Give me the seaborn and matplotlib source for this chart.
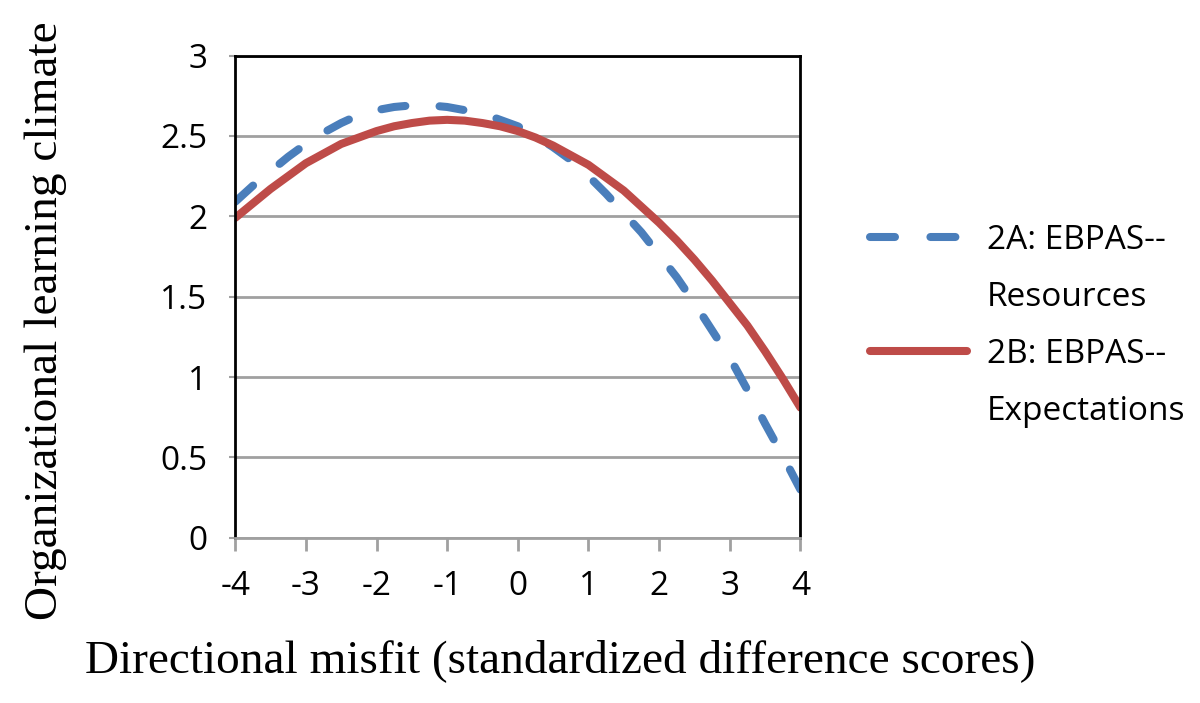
import matplotlib
matplotlib.use("Agg")
import matplotlib.pyplot as plt
from matplotlib.lines import Line2D
import pandas as pd
import seaborn as sns

sns.set_theme(style="white")
plt.rcParams['font.family'] = ['Open Sans', 'DejaVu Sans']
plt.rcParams['axes.unicode_minus'] = False
plt.rcParams['text.color'] = 'black'
plt.rcParams['xtick.color'] = 'black'
plt.rcParams['ytick.color'] = 'black'
plt.rcParams['axes.labelcolor'] = 'black'

## Data
misfit = [-4, -3.75, -3.5, -3.25, -3, -2.75, -2.5, -2.25, -2, -1.75, -1.5, -1.25, -1,
          -0.75, -0.5, -0.25, 0, 0.25, 0.5, 0.75, 1, 1.25, 1.5, 1.75, 2, 2.25, 2.5,
          2.75, 3, 3.25, 3.5, 3.75, 4]
resources = [2.09, 2.19, 2.28, 2.37, 2.45, 2.52, 2.58, 2.63, 2.66, 2.68, 2.69, 2.69, 2.68,
             2.66, 2.64, 2.60, 2.56, 2.50, 2.43, 2.35, 2.25, 2.14, 2.02, 1.90, 1.76, 1.62,
             1.46, 1.29, 1.12, 0.92, 0.71, 0.51, 0.30]
expectations = [1.99, 2.08, 2.17, 2.25, 2.33, 2.39, 2.45, 2.49, 2.53, 2.56, 2.58, 2.595, 2.60,
                2.595, 2.58, 2.56, 2.53, 2.49, 2.44, 2.38, 2.32, 2.24, 2.16, 2.06, 1.96, 1.85,
                1.73, 1.60, 1.46, 1.32, 1.16, 0.99, 0.81]
legend_lines = ["2A: EBPAS--", "Resources", "2B: EBPAS--", "Expectations"]
x_ticks = [-4, -3, -2, -1, 0, 1, 2, 3, 4]
y_ticks = [0, 0.5, 1, 1.5, 2, 2.5, 3]

df = pd.DataFrame({"misfit": misfit, "A": resources, "B": expectations})

fig = plt.figure(figsize=(12, 7.03), dpi=100)
ax = fig.add_axes([0.196, 0.235, 0.471, 0.686])

## Plot
sns.lineplot(data=df, x="misfit", y="A", ax=ax, color="#4A7EBB", linewidth=5.8)
sns.lineplot(data=df, x="misfit", y="B", ax=ax, color="#BE4B48", linewidth=5.8)
blue, red = ax.lines[0], ax.lines[1]
blue.set_dashes((3.0, 4.25))
blue.set_dash_capstyle("round")
blue.set_solid_joinstyle("round")
red.set_solid_capstyle("round")
red.set_solid_joinstyle("round")

## Axes style
ax.set_xlim(-4, 4)
ax.set_ylim(0, 3)
ax.set_xticks(x_ticks)
ax.set_yticks(y_ticks)
ax.set_yticklabels(["0", "0.5", "1", "1.5", "2", "2.5", "3"])
ax.yaxis.grid(True, color="#A0A0A0", linewidth=2)
ax.set_axisbelow(True)
for side in ["left", "right", "top"]:
    ax.spines[side].set_color("black")
    ax.spines[side].set_linewidth(2)
ax.spines["bottom"].set_color("#A0A0A0")
ax.spines["bottom"].set_linewidth(2)
ax.tick_params(axis="x", bottom=True, direction="out", length=9, width=2,
               color="#A0A0A0", labelsize=24, pad=14)
ax.tick_params(axis="y", left=True, direction="out", length=4, width=1.5,
               color="#A0A0A0", labelsize=24, pad=16)

ax.set_xlabel("Directional misfit (standardized difference scores)",
              family="Liberation Serif", fontsize=34, va="center")
ax.set_ylabel("Organizational learning climate",
              family="Liberation Serif", fontsize=34, va="center")
ax.xaxis.set_label_coords(0.575, -0.255)
ax.yaxis.set_label_coords(-0.335, 0.45)

## Legend: handle sits beside the first line of each two-line label
blank = Line2D([], [], alpha=0)
h_blue = Line2D([], [], color="#4A7EBB", linewidth=5.8, dashes=(3.1, 4.4),
                dash_capstyle="round")
h_red = Line2D([], [], color="#BE4B48", linewidth=5.8, solid_capstyle="round")
leg = ax.legend([h_blue, blank, h_red, blank], legend_lines,
                loc="center left", bbox_to_anchor=(1.07, 0.44), frameon=False,
                fontsize=24, handlelength=2.9, handletextpad=0.6,
                labelspacing=0.72)

fig.savefig("out.png", dpi=100)
